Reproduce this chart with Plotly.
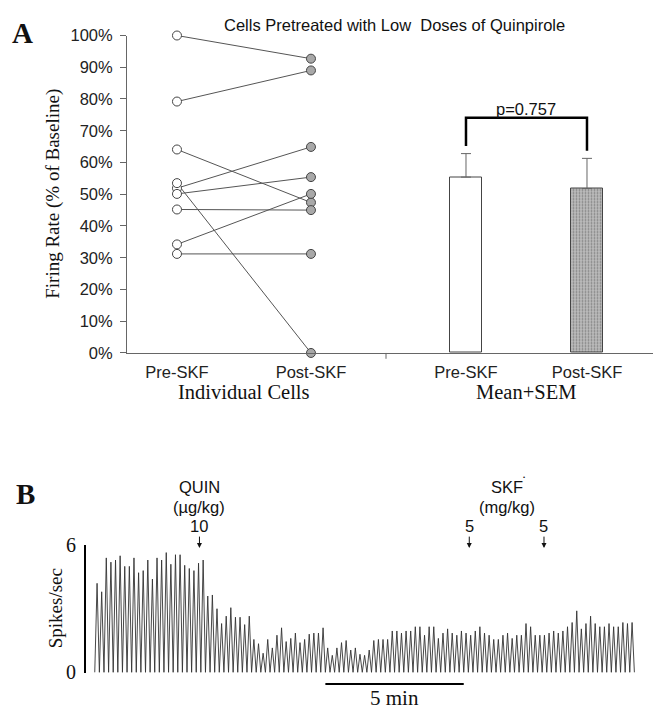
import plotly.graph_objects as go

# ---- Panel A: individual cells (firing rate, % of baseline) ----
phases = ["Pre-SKF", "Post-SKF"]
pre_skf = [100, 79.2, 64.1, 51.9, 50.1, 53.5, 45.2, 34.2, 31.2]
post_skf = [92.7, 89.0, 47.4, 64.9, 55.4, 0.0, 45.0, 50.1, 31.2]

# ---- Panel A: mean + SEM ----
bar_labels = ["Pre-SKF", "Post-SKF"]
bar_means = [55.4, 51.8]
bar_sem = [7.4, 9.5]
p_text = "p=0.757"

# ---- Panel B: rate trace, spikes/sec per 10 s bin ----
bin_minutes = 10 / 60
rate_peaks = [
    4.2, 3.8, 5.4, 5.2, 5.3, 5.5, 5.0, 5.0, 5.4, 4.7, 4.8, 5.3,
    4.4, 5.4, 5.3, 5.65, 5.1, 5.55, 5.55, 5.05, 4.9, 4.8, 5.15, 5.3,
    3.6, 3.65, 3.0, 2.3, 2.65, 3.05, 2.6, 2.6, 2.25, 2.65, 1.55, 1.35,
    0.9, 1.55, 1.15, 1.75, 2.1, 1.45, 1.6, 1.85, 1.4, 1.55, 1.8, 1.85,
    1.85, 2.1,
    1.15, 0.8, 1.15, 1.4, 1.5, 1.05, 1.15, 0.85, 0.8, 1.05,
    1.5, 1.55, 1.55, 1.55, 1.95, 1.95, 1.85, 1.95, 1.95, 2.15,
    2.15, 1.75, 2.15, 2.15, 1.6, 1.85, 2.05, 1.85, 1.75, 1.95,
    1.85, 1.75, 1.95, 2.15, 1.85, 1.75, 1.55, 1.55, 1.75, 1.85,
    1.6, 1.75, 1.75, 2.3, 2.15, 1.75, 1.75, 1.75, 1.85, 1.95,
    1.85, 1.95, 2.15, 2.35, 2.9, 2.05, 2.3, 2.65, 2.3, 2.15,
    2.15, 2.3, 2.15, 2.15, 2.35, 2.3, 2.35,
]
quin_time, quin_dose = 3.7, "10"
skf_times, skf_doses = [13.45, 16.15], ["5", "5"]
scale_start, scale_len = 8.25, 5

SANS = "Liberation Sans"
SERIF = "Liberation Serif"
SANS_SIZE = 16.5
W, H = 661, 720
OFF = 8  # page margin around the figure


def X(x):  # page pixel column -> paper fraction
    return (x - OFF) / W


def Y(y):  # page pixel row -> paper fraction
    return (H - (y - OFF)) / H


fig = go.Figure()

# individual cell lines
for a, b in zip(pre_skf, post_skf):
    fig.add_trace(go.Scatter(x=phases, y=[a, b], mode="lines",
                             line=dict(color="#555", width=1),
                             xaxis="x", yaxis="y", hoverinfo="skip"))
fig.add_trace(go.Scatter(x=[phases[0]] * len(pre_skf), y=pre_skf, mode="markers",
                         marker=dict(symbol="circle", size=9, color="white",
                                     line=dict(color="#444", width=1)),
                         cliponaxis=False, xaxis="x", yaxis="y"))
fig.add_trace(go.Scatter(x=[phases[1]] * len(post_skf), y=post_skf, mode="markers",
                         marker=dict(symbol="circle", size=9, color="#a8a8a8",
                                     line=dict(color="#444", width=1)),
                         cliponaxis=False, xaxis="x", yaxis="y"))

# mean + SEM bars
fig.add_trace(go.Bar(
    x=bar_labels, y=bar_means, width=0.27,
    marker=dict(color=["white", "#bdbdbd"],
                line=dict(color="#444", width=1),
                pattern=dict(shape=["", "."], fgcolor="#777", size=3, solidity=0.3)),
    error_y=dict(type="data", array=bar_sem, arrayminus=[0, 0], symmetric=False,
                 color="#666", thickness=1, width=5),
    xaxis="x2", yaxis="y"))

# significance bracket, placed over the error bars
tops = [m + s for m, s in zip(bar_means, bar_sem)]
bracket_y = max(tops) + 11.3
fig.add_trace(go.Scatter(x=[bar_labels[0], bar_labels[0], bar_labels[1], bar_labels[1]],
                         y=[tops[0] + 2.4, bracket_y, bracket_y, tops[1] + 2.4],
                         mode="lines", line=dict(color="black", width=2.5),
                         cliponaxis=False, xaxis="x2", yaxis="y"))

# rate trace as zigzag
tx, ty = [], []
for i, p in enumerate(rate_peaks):
    t = i * bin_minutes
    tx += [t - 0.5 * bin_minutes, t]
    ty += [0, p]
tx.append((len(rate_peaks) - 0.5) * bin_minutes)
ty.append(0)
fig.add_trace(go.Scatter(x=tx, y=ty, mode="lines", line=dict(color="#333", width=0.9),
                         xaxis="x3", yaxis="y3", cliponaxis=False))

axis_line = "#666"
fig.update_layout(
    width=W, height=H, margin=dict(l=0, r=0, t=0, b=0),
    paper_bgcolor="white", plot_bgcolor="white", showlegend=False,
    bargap=0,
    xaxis=dict(domain=[X(127), X(386)], type="category", range=[-0.373, 1.56],
               showline=True, linecolor=axis_line, linewidth=1, ticks="",
               showgrid=False, zeroline=False, anchor="y",
               tickfont=dict(family=SANS, size=SANS_SIZE, color="#222"),
               ticklabelstandoff=4),
    xaxis2=dict(domain=[X(386), X(655)], type="category", range=[-0.661, 1.562],
                showline=True, linecolor=axis_line, linewidth=1, ticks="",
                showgrid=False, zeroline=False, anchor="y",
                tickfont=dict(family=SANS, size=SANS_SIZE, color="#222"),
                ticklabelstandoff=4),
    yaxis=dict(domain=[Y(352), Y(25)], range=[0, 100], dtick=10, ticksuffix="%",
               showline=True, linecolor=axis_line, linewidth=1, ticks="outside",
               ticklen=6, tickcolor=axis_line, showgrid=False, zeroline=False,
               anchor="x", tickfont=dict(family=SANS, size=SANS_SIZE, color="#222"),
               ticklabelstandoff=4),
    xaxis3=dict(domain=[X(86), X(645)], range=[-0.4, 19.8], visible=False,
                anchor="y3"),
    yaxis3=dict(domain=[Y(682), Y(550)], range=[-0.05, 6], tickvals=[0, 6],
                showline=True, linecolor="black", linewidth=2, ticks="",
                showgrid=False, zeroline=False, anchor="x3",
                tickfont=dict(family=SERIF, size=20, color="#111"),
                ticklabelstandoff=4),
)

ann = []


def text(x, y, s, size=SANS_SIZE, family=SANS, xref="paper", **kw):
    ann.append(dict(x=x, y=y, xref=xref, yref="paper", text=s, showarrow=False,
                    xanchor="center", yanchor="middle",
                    font=dict(family=family, size=size, color="#111"), **kw))


text(X(22), Y(22), "<b>A</b>", size=29, family=SERIF)
text(X(25), Y(497), "<b>B</b>", size=29, family=SERIF)
text(X(394), Y(14), "Cells Pretreated with Low\u00a0 Doses of Quinpirole", size=16.5)
text(X(53), Y(188), "Firing Rate (% of Baseline)", size=19, family=SERIF, textangle=-90)
text(0.5, Y(392), "Individual Cells", size=20.5, family=SERIF, xref="x")
text(0.5, Y(392), "Mean+SEM", size=20.5, family=SERIF, xref="x2")
text(0.5, Y(101), p_text, xref="x2")
text(X(55), Y(615), "Spikes/sec", size=19, family=SERIF, textangle=-90)

# panel B drug annotations
text(quin_time, Y(490), "QUIN", xref="x3")
text(quin_time, Y(511), "(\u00b5g/kg)", xref="x3")
text(sum(skf_times) / 2, Y(490), "SKF", xref="x3")
text(sum(skf_times) / 2 + 0.62, Y(480), "\u2022", size=6, xref="x3")
text(sum(skf_times) / 2, Y(511), "(mg/kg)", xref="x3")
for t, d in [(quin_time, quin_dose)] + list(zip(skf_times, skf_doses)):
    ann.append(dict(x=t, y=Y(553), xref="x3", yref="paper", text=d, showarrow=True,
                    ax=0, ay=-22, arrowhead=2, arrowsize=1, arrowwidth=1,
                    arrowcolor="#111", standoff=0,
                    font=dict(family=SANS, size=SANS_SIZE, color="#111")))

# scale bar
text(scale_start + scale_len / 2, Y(707), "5 min", size=21, family=SERIF, xref="x3")
shapes = [
    dict(type="line", xref="x3", yref="paper", x0=scale_start, x1=scale_start + scale_len,
         y0=Y(693), y1=Y(693), line=dict(color="black", width=2)),
    dict(type="line", xref="x2 domain", yref="paper", x0=0, x1=0,
         y0=Y(352), y1=Y(358), line=dict(color=axis_line, width=1)),
    dict(type="line", xref="x2 domain", yref="paper", x0=1, x1=1,
         y0=Y(352), y1=Y(358), line=dict(color=axis_line, width=1)),
]
fig.update_layout(annotations=ann, shapes=shapes)

fig.write_html("out.html")
